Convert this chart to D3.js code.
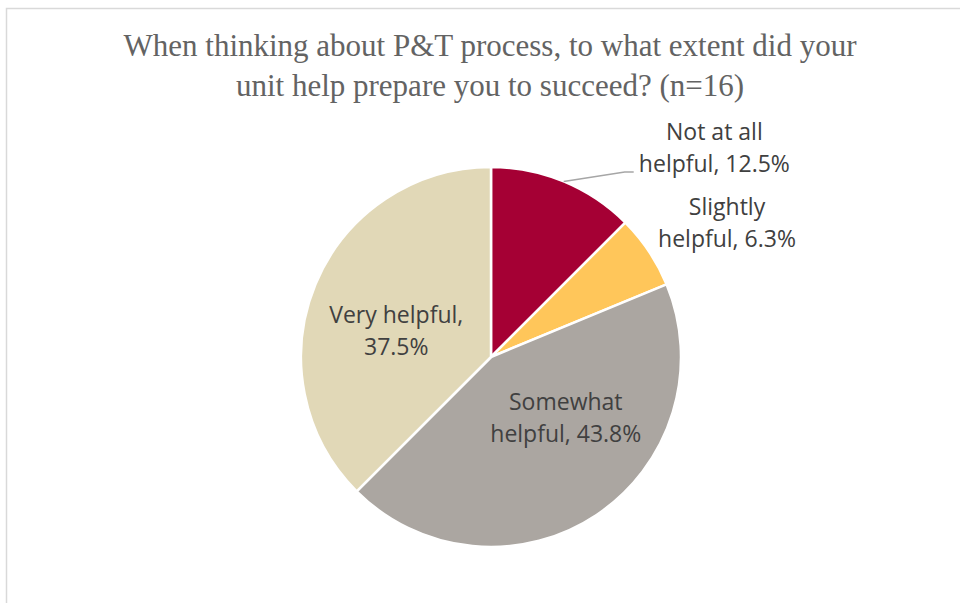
<!DOCTYPE html>
<html>
<head>
<meta charset="utf-8">
<script src="https://cdn.jsdelivr.net/npm/d3@7.9.0/dist/d3.min.js"></script>
<style>
  html, body { margin: 0; padding: 0; background: #fff; }
  svg { display: block; }
</style>
</head>
<body>
<div id="chart"></div>
<script>
const categories = ["Not at all helpful", "Slightly helpful", "Somewhat helpful", "Very helpful"];
const counts = [2, 1, 7, 6];           // n = 16
const percentLabels = ["12.5%", "6.3%", "43.8%", "37.5%"];
const labelLines = [
  ["Not at all", "helpful, 12.5%"],
  ["Slightly", "helpful, 6.3%"],
  ["Somewhat", "helpful, 43.8%"],
  ["Very helpful,", "37.5%"]
];
const titleLines = [
  "When thinking about P&T process, to what extent did your",
  "unit help prepare you to succeed? (n=16)"
];
const colors = ["#A50034", "#FFC65A", "#ABA6A1", "#E1D8B7"];

const width = 960, height = 603;
const cx = 491, cy = 357, radius = 190;

const svg = d3.select("#chart").append("svg")
  .attr("width", width)
  .attr("height", height);

// chart frame (only left and top edges visible in the crop)
svg.append("path")
  .attr("d", `M6.5,${height} V8.5 H${width}`)
  .attr("fill", "none")
  .attr("stroke", "#d9d9d9")
  .attr("stroke-width", 1.5);

// title
svg.append("text")
  .attr("x", 490)
  .attr("y", 56)
  .attr("text-anchor", "middle")
  .style("font-family", "'Liberation Serif', 'DejaVu Serif', serif")
  .style("font-size", "31px")
  .style("fill", "#636363")
  .selectAll("tspan")
  .data(titleLines)
  .enter().append("tspan")
  .attr("x", 490)
  .attr("dy", (d, i) => i === 0 ? 0 : 40)
  .text(d => d);

const pie = d3.pie().sort(null).value(d => d);
const arcs = pie(counts);
const arc = d3.arc().innerRadius(0).outerRadius(radius);

const g = svg.append("g").attr("transform", `translate(${cx},${cy})`);

g.selectAll("path.slice")
  .data(arcs)
  .enter().append("path")
  .attr("class", "slice")
  .attr("d", arc)
  .attr("fill", (d, i) => colors[i])
  .attr("stroke", "#fff")
  .attr("stroke-width", 2.5)
  .attr("stroke-linejoin", "round");

// label placement: slice centroid, nudged the way Excel placed them
const nudges = [[187, -121], [157, -81], [22, -18], [-7, 10]];

const labels = g.selectAll("text.lbl")
  .data(arcs)
  .enter().append("text")
  .attr("class", "lbl")
  .attr("text-anchor", "middle")
  .style("font-family", "'Open Sans', 'Noto Sans', sans-serif")
  .style("font-size", "23px")
  .style("fill", "#404040")
  .attr("transform", (d, i) => {
    const c = arc.centroid(d);
    return `translate(${c[0] + nudges[i][0]},${c[1] + nudges[i][1]})`;
  });

labels.selectAll("tspan")
  .data((d, i) => labelLines[i])
  .enter().append("tspan")
  .attr("x", 0)
  .attr("dy", (d, i) => i === 0 ? -8 : 32)
  .text(d => d);

// leader line for the first (outside) label
const edge = d3.arc().innerRadius(radius).outerRadius(radius).centroid(arcs[0]);
g.append("polyline")
  .attr("points", [edge, [edge[0] + 61, -185], [edge[0] + 70, -185]].map(p => p.join(",")).join(" "))
  .attr("fill", "none")
  .attr("stroke", "#a6a6a6")
  .attr("stroke-width", 1.5);
</script>
</body>
</html>
